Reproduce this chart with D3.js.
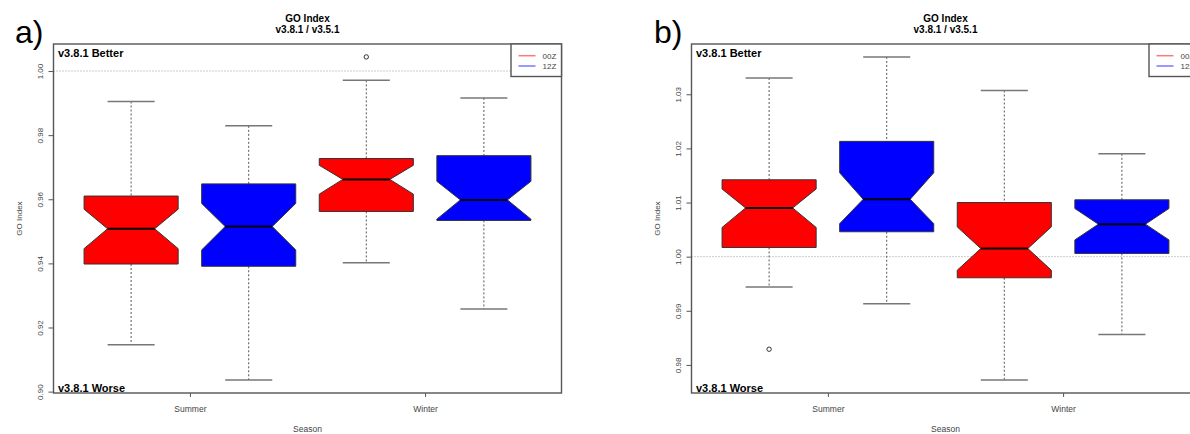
<!DOCTYPE html>
<html>
<head>
<meta charset="utf-8">
<script src="https://cdn.jsdelivr.net/npm/d3@7"></script>
<style>
  html, body { margin: 0; padding: 0; background: #fff; }
  svg { display: block; font-family: "Liberation Sans", Arial, Helvetica, sans-serif; }
</style>
</head>
<body>
<svg id="chart" width="1190" height="434"></svg>
<script>
// Categories: boxes are ordered Summer/00Z, Summer/12Z, Winter/00Z, Winter/12Z
const seasons = ["Summer", "Winter"];
const runs = ["00Z", "12Z"];

// Panel a) GO index statistics
const aLow     = [0.9146, 0.9036, 0.9402, 0.9258];
const aQ1      = [0.9398, 0.9391, 0.9562, 0.9534];
const aMed     = [0.9508, 0.9515, 0.9662, 0.9598];
const aQ3      = [0.9610, 0.9648, 0.9727, 0.9736];
const aHigh    = [0.9905, 0.9829, 0.9971, 0.9916];
const aNotchLo = [0.9446, 0.9442, 0.9616, 0.9538];
const aNotchHi = [0.9569, 0.9587, 0.9706, 0.9656];
const aOut     = [[], [], [1.0044], []];
const aTicks   = [0.90, 0.92, 0.94, 0.96, 0.98, 1.00];

// Panel b) GO index statistics
const bLow     = [0.9944, 0.9913, 0.9772, 0.9856];
const bQ1      = [1.0017, 1.0046, 0.9961, 1.0006];
const bMed     = [1.0090, 1.0106, 1.0015, 1.0060];
const bQ3      = [1.0142, 1.0213, 1.0100, 1.0105];
const bHigh    = [1.0330, 1.0369, 1.0307, 1.0190];
const bNotchLo = [1.0054, 1.0061, 0.9975, 1.0031];
const bNotchHi = [1.0125, 1.0155, 1.0055, 1.0089];
const bOut     = [[0.9829], [], [], []];
const bTicks   = [0.98, 0.99, 1.00, 1.01, 1.02, 1.03];

const boxFill = ["#ff0000", "#0000ff"];
const legendLine = ["#ff7777", "#7777ff"];

const svg = d3.select("#chart");

function drawPanel(opt) {
  const { left, right, top, bottom, letter, letterX, st, ticks } = opt;
  const g = svg.append("g");

  // R-style axis range: data extent padded by 4%
  const allVals = st.low.concat(st.high, st.out.flat());
  const lo = d3.min(allVals), hi = d3.max(allVals);
  const pad = (hi - lo) * 0.04;
  const y = d3.scaleLinear().domain([lo - pad, hi + pad]).range([bottom, top]);
  const n = st.med.length;
  const x = d3.scaleLinear().domain([0.5 - n * 0.04, n + 0.5 + n * 0.04]).range([left, right]);
  const bw = 0.8;

  // reference line at 1.00
  g.append("line")
    .attr("x1", left).attr("x2", right)
    .attr("y1", y(1)).attr("y2", y(1))
    .attr("stroke", "#9a9a9a").attr("stroke-width", 1)
    .attr("stroke-dasharray", "1,2");

  // boxes
  for (let i = 0; i < n; i++) {
    const c = i + 1;
    const xl = x(c - bw / 2), xr = x(c + bw / 2);
    const xil = x(c - bw / 4), xir = x(c + bw / 4);

    // whiskers
    g.append("line")
      .attr("x1", x(c)).attr("x2", x(c))
      .attr("y1", y(st.high[i])).attr("y2", y(st.q3[i]))
      .attr("stroke", "#555").attr("stroke-width", 1).attr("stroke-dasharray", "2,2");
    g.append("line")
      .attr("x1", x(c)).attr("x2", x(c))
      .attr("y1", y(st.q1[i])).attr("y2", y(st.low[i]))
      .attr("stroke", "#555").attr("stroke-width", 1).attr("stroke-dasharray", "2,2");
    [st.high[i], st.low[i]].forEach(v => {
      g.append("line")
        .attr("x1", x(c - bw / 4)).attr("x2", x(c + bw / 4))
        .attr("y1", y(v)).attr("y2", y(v))
        .attr("stroke", "#777").attr("stroke-width", 1.5);
    });

    // notched box
    const pts = [
      [xl, y(st.q1[i])], [xl, y(st.notchLo[i])], [xil, y(st.med[i])],
      [xl, y(st.notchHi[i])], [xl, y(st.q3[i])], [xr, y(st.q3[i])],
      [xr, y(st.notchHi[i])], [xir, y(st.med[i])], [xr, y(st.notchLo[i])],
      [xr, y(st.q1[i])]
    ];
    g.append("polygon")
      .attr("points", pts.map(p => p.join(",")).join(" "))
      .attr("fill", boxFill[i % 2])
      .attr("stroke", "#333").attr("stroke-width", 1);

    // median
    g.append("line")
      .attr("x1", xil).attr("x2", xir)
      .attr("y1", y(st.med[i])).attr("y2", y(st.med[i]))
      .attr("stroke", "#000").attr("stroke-width", 2);

    // outliers
    st.out[i].forEach(v => {
      g.append("circle")
        .attr("cx", x(c)).attr("cy", y(v)).attr("r", 2.2)
        .attr("fill", "none").attr("stroke", "#333").attr("stroke-width", 1);
    });
  }

  // frame
  g.append("rect")
    .attr("x", left).attr("y", top)
    .attr("width", right - left).attr("height", bottom - top)
    .attr("fill", "none").attr("stroke", "#555").attr("stroke-width", 1.4);

  // y axis
  const yAxis = g.append("g")
    .attr("transform", `translate(${left},0)`)
    .call(d3.axisLeft(y).tickValues(ticks).tickSize(5).tickSizeOuter(0).tickFormat(d3.format(".2f")));
  yAxis.select(".domain").remove();
  yAxis.selectAll(".tick line").attr("stroke", "#555");
  yAxis.selectAll(".tick text")
    .attr("transform", "rotate(-90)")
    .attr("x", 0).attr("y", -11).attr("dy", 0)
    .attr("text-anchor", "middle")
    .attr("fill", "#444")
    .style("font-size", "8px")
    .style("font-family", "'Liberation Sans', Arial, sans-serif");

  // x axis
  const xAxis = g.append("g")
    .attr("transform", `translate(0,${bottom})`)
    .call(d3.axisBottom(x).tickValues([1.5, 3.5]).tickSize(4).tickSizeOuter(0)
      .tickFormat((d, i) => seasons[i]));
  xAxis.select(".domain").remove();
  xAxis.selectAll(".tick line").attr("stroke", "#555");
  xAxis.selectAll(".tick text")
    .attr("y", 18.5).attr("dy", 0)
    .attr("fill", "#444")
    .style("font-size", "8.5px")
    .style("font-family", "'Liberation Sans', Arial, sans-serif");

  // axis titles
  g.append("text")
    .attr("x", (left + right) / 2).attr("y", 432)
    .attr("text-anchor", "middle").attr("fill", "#444")
    .style("font-size", "8.5px").text("Season");
  g.append("text")
    .attr("transform", `translate(${left - 32},${(top + bottom) / 2}) rotate(-90)`)
    .attr("text-anchor", "middle").attr("fill", "#444")
    .style("font-size", "8px").text("GO Index");

  // main title
  const cx = (left + right) / 2;
  g.append("text").attr("x", cx).attr("y", 21.7)
    .attr("text-anchor", "middle").style("font-size", "10px").style("font-weight", "bold")
    .text("GO Index");
  g.append("text").attr("x", cx).attr("y", 33.3)
    .attr("text-anchor", "middle").style("font-size", "10px").style("font-weight", "bold")
    .text("v3.8.1 / v3.5.1");

  // better / worse annotations
  g.append("text").attr("x", left + 4.5).attr("y", 56.5)
    .style("font-size", "11px").style("font-weight", "bold").text("v3.8.1 Better");
  g.append("text").attr("x", left + 4.5).attr("y", bottom - 1.5)
    .style("font-size", "11px").style("font-weight", "bold").text("v3.8.1 Worse");

  // legend
  const lx = right - 50.5, ly = top;
  g.append("rect").attr("x", lx).attr("y", ly).attr("width", 50.5).attr("height", 32.5)
    .attr("fill", "#fff").attr("stroke", "#555").attr("stroke-width", 1.4);
  runs.forEach((r, i) => {
    const yy = ly + 11.7 + i * 10.3;
    g.append("line").attr("x1", lx + 7.5).attr("x2", lx + 24.5)
      .attr("y1", yy).attr("y2", yy)
      .attr("stroke", legendLine[i]).attr("stroke-width", 1.5);
    g.append("text").attr("x", lx + 31.5).attr("y", yy + 3)
      .attr("fill", "#444").style("font-size", "8px").text(r);
  });

  // panel letter
  svg.append("text").attr("x", letterX).attr("y", 43)
    .style("font-size", "32px").text(letter);
}

drawPanel({
  left: 53.5, right: 561.5, top: 44, bottom: 393, letter: "a)", letterX: 15,
  st: { low: aLow, q1: aQ1, med: aMed, q3: aQ3, high: aHigh, notchLo: aNotchLo, notchHi: aNotchHi, out: aOut },
  ticks: aTicks
});
drawPanel({
  left: 691.5, right: 1199.5, top: 44, bottom: 393, letter: "b)", letterX: 654,
  st: { low: bLow, q1: bQ1, med: bMed, q3: bQ3, high: bHigh, notchLo: bNotchLo, notchHi: bNotchHi, out: bOut },
  ticks: bTicks
});
</script>
</body>
</html>
